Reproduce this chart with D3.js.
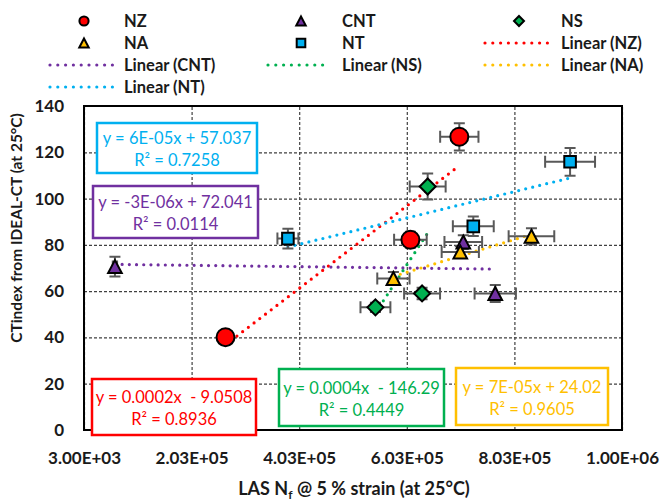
<!DOCTYPE html>
<html>
<head>
<meta charset="utf-8">
<script src="https://cdn.jsdelivr.net/npm/d3@7"></script>
<style>
  body { margin: 0; background: #fff; }
  text { font-family: Lato, 'Open Sans', sans-serif; }
</style>
</head>
<body>
<div id="d3-container"></div>
<script>
// chart data
let seriesNames = ['NZ', 'CNT', 'NS', 'NA', 'NT'];

let nzX = [266000, 609700, 700600];
let nzY = [40.1, 82.2, 126.7];
let nzXErr = [12000, 30300, 35600];
let nzYErr = [1.5, 3.5, 5.9];

let cntX = [60500, 708000, 767400];
let cntY = [70.6, 81.2, 59.0];
let cntXErr = [4000, 35000, 38400];
let cntYErr = [4.3, 3.0, 3.7];

let nsX = [544700, 631400, 641800];
let nsY = [53.0, 59.0, 105.2];
let nsXErr = [27800, 33400, 33400];
let nsYErr = [2.0, 2.5, 5.6];

let naX = [578100, 702400, 834700];
let naY = [65.5, 76.9, 83.7];
let naXErr = [30000, 34600, 42400];
let naYErr = [2.8, 2.5, 3.5];

let ntX = [382000, 726600, 906500];
let ntY = [82.7, 88.0, 115.9];
let ntXErr = [19500, 38000, 46400];
let ntYErr = [4.3, 4.2, 6.0];

let eqLines = ['y = 0.0002x  - 9.0508', 'y = -3E-06x + 72.041', 'y = 0.0004x  - 146.29', 'y = 7E-05x + 24.02', 'y = 6E-05x + 57.037'];
let r2Values = ['0.8936', '0.0114', '0.4449', '0.9605', '0.7258'];

let xTicks = [3000, 203000, 403000, 603000, 803000, 1003000];
let xTickLabels = ['3.00E+03', '2.03E+05', '4.03E+05', '6.03E+05', '8.03E+05', '1.00E+06'];
let yTicks = [0, 20, 40, 60, 80, 100, 120, 140];

// layout / styles
let colors = { NZ: '#ff0000', CNT: '#7030a0', NS: '#00b050', NA: '#ffc000', NT: '#00b0f0' };
let shapes = { NZ: 'circle', CNT: 'triangle', NS: 'diamond', NA: 'triangle', NT: 'square' };
let eqBoxes = {
  NZ: { x: 92, y: 379, w: 164, h: 56 },
  CNT: { x: 93, y: 186, w: 165, h: 52 },
  NS: { x: 279, y: 369, w: 165, h: 57 },
  NA: { x: 456, y: 368, w: 152, h: 57 },
  NT: { x: 97, y: 123, w: 160, h: 50 },
};

let plot = { left: 84, right: 622, top: 106, bottom: 430 };
let labelFont = { size: '16.5px', weight: 'bold', color: '#1a1a1a' };

let svg = d3
  .select('#d3-container')
  .append('svg')
  .attr('width', 664)
  .attr('height', 501)
  .style('background-color', 'white');

let xScale = d3.scaleLinear().domain([3000, 1003000]).range([plot.left, plot.right]);
let yScale = d3.scaleLinear().domain([0, 140]).range([plot.bottom, plot.top]);

let data = seriesNames.map(function (name, k) {
  let xs = [nzX, cntX, nsX, naX, ntX][k];
  let ys = [nzY, cntY, nsY, naY, ntY][k];
  let xe = [nzXErr, cntXErr, nsXErr, naXErr, ntXErr][k];
  let ye = [nzYErr, cntYErr, nsYErr, naYErr, ntYErr][k];
  return {
    name: name,
    points: xs.map(function (x, i) {
      return { x: x, y: ys[i], xe: xe[i], ye: ye[i] };
    }),
  };
});

function markerPath(kind, s) {
  if (kind === 'circle') {
    return 'M' + -s + ',0a' + s + ',' + s + ' 0 1,0 ' + 2 * s + ',0a' + s + ',' + s + ' 0 1,0 ' + -2 * s + ',0Z';
  }
  if (kind === 'triangle') {
    return 'M0,' + -s + 'L' + s * 1.05 + ',' + s + 'L' + -s * 1.05 + ',' + s + 'Z';
  }
  if (kind === 'square') {
    return 'M' + -s + ',' + -s + 'h' + 2 * s + 'v' + 2 * s + 'h' + -2 * s + 'Z';
  }
  return 'M0,' + -s + 'L' + s + ',0L0,' + s + 'L' + -s + ',0Z';
}
let markerSize = { circle: 9, triangle: 6.5, square: 5.8, diamond: 8 };
let legendSize = { circle: 4.6, triangle: 4.5, square: 4.3, diamond: 5 };

// gridlines + tick labels
let yAxis = svg
  .append('g')
  .attr('transform', 'translate(' + plot.left + ',0)')
  .call(
    d3
      .axisLeft(yScale)
      .tickValues(yTicks)
      .tickSize(-(plot.right - plot.left))
      .tickPadding(20)
      .tickFormat(d3.format('d'))
  );
let xAxis = svg
  .append('g')
  .attr('transform', 'translate(0,' + plot.bottom + ')')
  .call(
    d3
      .axisBottom(xScale)
      .tickValues(xTicks)
      .tickSize(-(plot.bottom - plot.top))
      .tickPadding(22)
      .tickFormat(function (d, i) {
        return xTickLabels[i];
      })
  );
[xAxis, yAxis].forEach(function (ax) {
  ax.select('.domain').remove();
  ax.selectAll('.tick line').attr('stroke', '#404040').attr('stroke-width', 1.2).attr('stroke-dasharray', '3,2');
  ax.selectAll('.tick text')
    .attr('fill', labelFont.color)
    .style('font-size', '17px')
    .style('font-weight', labelFont.weight)
    .style('font-family', 'Lato, sans-serif');
});

svg
  .append('rect')
  .attr('x', plot.left)
  .attr('y', plot.top)
  .attr('width', plot.right - plot.left)
  .attr('height', plot.bottom - plot.top)
  .attr('fill', 'none')
  .attr('stroke', '#000')
  .attr('stroke-width', 2);

// linear trendlines (least squares, drawn over the x range of each series)
function fit(points) {
  let mx = d3.mean(points, (p) => p.x);
  let my = d3.mean(points, (p) => p.y);
  let sxy = d3.sum(points, (p) => (p.x - mx) * (p.y - my));
  let sxx = d3.sum(points, (p) => (p.x - mx) * (p.x - mx));
  let slope = sxy / sxx;
  return { slope: slope, intercept: my - slope * mx };
}

let trend = svg.append('g');
data.forEach(function (s) {
  let f = fit(s.points);
  let x0 = d3.min(s.points, (p) => p.x);
  let x1 = d3.max(s.points, (p) => p.x);
  trend
    .append('line')
    .attr('x1', xScale(x0))
    .attr('y1', yScale(f.slope * x0 + f.intercept))
    .attr('x2', xScale(x1))
    .attr('y2', yScale(f.slope * x1 + f.intercept))
    .attr('stroke', colors[s.name])
    .attr('stroke-width', 3.2)
    .attr('stroke-linecap', 'round')
    .attr('stroke-dasharray', '0 7.2');
});

// error bars
let errG = svg.append('g').attr('stroke', '#595959').attr('stroke-width', 2).attr('fill', 'none');
data.forEach(function (s) {
  s.points.forEach(function (p) {
    let cx = xScale(p.x),
      cy = yScale(p.y);
    let xl = xScale(p.x - p.xe),
      xr = xScale(p.x + p.xe);
    let yt = yScale(p.y + p.ye),
      yb = yScale(p.y - p.ye);
    errG.append('path').attr('d', 'M' + xl + ',' + cy + 'H' + xr + 'M' + xl + ',' + (cy - 6) + 'V' + (cy + 6) + 'M' + xr + ',' + (cy - 6) + 'V' + (cy + 6));
    errG.append('path').attr('d', 'M' + cx + ',' + yt + 'V' + yb + 'M' + (cx - 5.5) + ',' + yt + 'H' + (cx + 5.5) + 'M' + (cx - 5.5) + ',' + yb + 'H' + (cx + 5.5));
  });
});

// markers
data.forEach(function (s) {
  svg
    .append('g')
    .selectAll('path')
    .data(s.points)
    .enter()
    .append('path')
    .attr('transform', (p) => 'translate(' + xScale(p.x) + ',' + yScale(p.y) + ')')
    .attr('d', markerPath(shapes[s.name], markerSize[shapes[s.name]]))
    .attr('fill', colors[s.name])
    .attr('stroke', '#000')
    .attr('stroke-width', 2)
    .attr('stroke-linejoin', 'miter');
});

// equation boxes
data.forEach(function (s, k) {
  let b = eqBoxes[s.name];
  let g = svg.append('g');
  g.append('rect')
    .attr('x', b.x)
    .attr('y', b.y)
    .attr('width', b.w)
    .attr('height', b.h)
    .attr('fill', 'white')
    .attr('stroke', colors[s.name])
    .attr('stroke-width', 2.5);
  let t = g
    .append('text')
    .attr('text-anchor', 'middle')
    .attr('fill', colors[s.name])
    .style('font-size', '16.5px')
    .style('white-space', 'pre');
  t.append('tspan')
    .attr('x', b.x + b.w / 2)
    .attr('y', b.y + b.h / 2 - 4)
    .text(eqLines[k]);
  t.append('tspan')
    .attr('x', b.x + b.w / 2)
    .attr('y', b.y + b.h / 2 + 18)
    .text('R² = ' + r2Values[k]);
});

// legend: markers first, then trendlines, 3 per row
let legendItems = seriesNames
  .map((n) => ({ label: n, kind: 'marker', name: n }))
  .concat(seriesNames.map((n) => ({ label: 'Linear (' + n + ')', kind: 'line', name: n })));
let colX = [84, 301, 519];
let textX = [124, 342, 561];
let lineX = [[50, 113], [268, 330], [485, 549]];
let legend = svg.append('g');
legendItems.forEach(function (it, i) {
  let c = i % 3,
    r = Math.floor(i / 3);
  let y = 21 + r * 22;
  if (it.kind === 'marker') {
    let sh = shapes[it.name];
    legend
      .append('path')
      .attr('transform', 'translate(' + colX[c] + ',' + y + ')')
      .attr('d', markerPath(sh, legendSize[sh]))
      .attr('fill', colors[it.name])
      .attr('stroke', '#000')
      .attr('stroke-width', 2);
  } else {
    legend
      .append('line')
      .attr('x1', lineX[c][0])
      .attr('x2', lineX[c][1])
      .attr('y1', y)
      .attr('y2', y)
      .attr('stroke', colors[it.name])
      .attr('stroke-width', 3.2)
      .attr('stroke-linecap', 'round')
      .attr('stroke-dasharray', '0 7.8');
  }
  legend
    .append('text')
    .attr('x', textX[c])
    .attr('y', y + 6)
    .attr('fill', labelFont.color)
    .style('font-size', labelFont.size)
    .style('font-weight', labelFont.weight)
    .text(it.label);
});

// axis titles
let xTitle = svg
  .append('text')
  .attr('x', 354)
  .attr('y', 495)
  .attr('text-anchor', 'middle')
  .attr('fill', labelFont.color)
  .style('font-size', '18px')
  .style('font-weight', labelFont.weight);
xTitle.append('tspan').text('LAS N');
xTitle.append('tspan').attr('dy', 4).style('font-size', '12px').text('f');
xTitle.append('tspan').attr('dy', -4).text(' @ 5 % strain (at 25°C)');

svg
  .append('text')
  .attr('transform', 'translate(22,228) rotate(-90)')
  .attr('text-anchor', 'middle')
  .attr('fill', labelFont.color)
  .style('font-size', '15.5px')
  .style('font-weight', labelFont.weight)
  .text('CTindex from IDEAL-CT (at 25°C)');
</script>
</body>
</html>
